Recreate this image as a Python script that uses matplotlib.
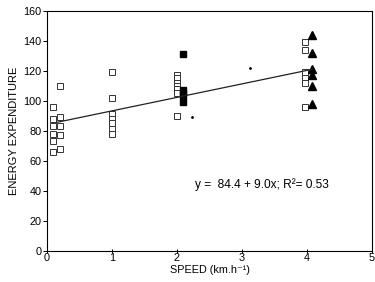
import matplotlib
matplotlib.use("Agg")
import matplotlib.pyplot as plt
import numpy as np

plt.rcParams['font.family'] = ['Liberation Sans', 'DejaVu Sans']

# open squares
open_x = [0.1, 0.1, 0.1, 0.1, 0.1, 0.1,
          0.2, 0.2, 0.2, 0.2, 0.2,
          1.0, 1.0, 1.0, 1.0, 1.0, 1.0, 1.0,
          2.0, 2.0, 2.0, 2.0, 2.0, 2.0, 2.0,
          3.97, 3.97, 3.97, 3.97, 3.97, 3.97]
open_y = [96, 88, 83, 78, 73, 66,
          110, 89, 83, 77, 68,
          119, 102, 91, 88, 85, 81, 78,
          117, 115, 112, 110, 108, 105, 90,
          139, 134, 119, 115, 112, 96]

# filled squares
filled_x = [2.1, 2.1, 2.1, 2.1, 2.1]
filled_y = [131, 107, 105, 103, 99]

# filled triangles
tri_x = [4.08, 4.08, 4.08, 4.08, 4.08, 4.08]
tri_y = [144, 132, 121, 117, 110, 98]

# small dots
dot_x = [2.23, 3.12]
dot_y = [89, 122]

# regression
intercept = 84.4
slope = 9.0
line_x = [0.15, 4.08]

fig = plt.figure(figsize=(3.75, 2.82), dpi=100)
ax = fig.add_axes([0.125, 0.11, 0.867, 0.851])

ax.plot(open_x, open_y, 's', mfc='white', mec='#333333', ms=4.2, mew=0.7, ls='none')
ax.plot(filled_x, filled_y, 's', color='black', ms=4.2, ls='none')
ax.plot(tri_x, tri_y, '^', color='black', ms=5.5, ls='none')
ax.plot(dot_x, dot_y, '.', color='black', ms=2, ls='none')
lx = np.array(line_x)
ax.plot(lx, intercept + slope * lx, color='#222222', lw=0.9)

ax.text(2.28, 44, 'y =  84.4 + 9.0x; R²= 0.53', fontsize=8.6, va='center', ha='left')

ax.set_xlim(0, 5)
ax.set_ylim(0, 160)
ax.set_xticks([0, 1, 2, 3, 4, 5])
ax.set_yticks(range(0, 161, 20))
ax.tick_params(axis='both', labelsize=7.8, length=3, width=0.7, pad=1)
ax.tick_params(axis='x', direction='inout', pad=0)
for s in ax.spines.values():
    s.set_linewidth(0.8)
ax.set_xlabel('SPEED (km.h⁻¹)', fontsize=7.8)
ax.xaxis.set_label_coords(0.5, -0.058)
ax.set_ylabel('ENERGY EXPENDITURE', fontsize=8, labelpad=3)

fig.savefig('out.png', dpi=100)
